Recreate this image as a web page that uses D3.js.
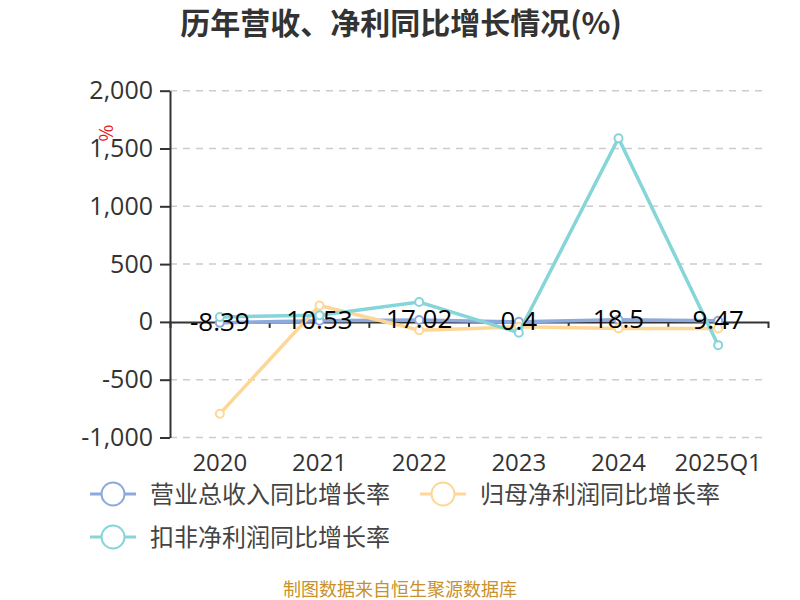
<!DOCTYPE html>
<html>
<head>
<meta charset="utf-8">
<script src="https://d3js.org/d3.v7.min.js"></script>
<style>
body { margin: 0; background: #fff; }
svg { font-family: "Noto Sans CJK SC", "Noto Sans", sans-serif; }
.num { font-family: "Open Sans", "Noto Sans", sans-serif; }
</style>
</head>
<body>
<svg width="800" height="600"></svg>
<script>
// chart data
var years = ["2020", "2021", "2022", "2023", "2024", "2025Q1"];
var revenueGrowth = [-8.39, 10.53, 17.02, 0.4, 18.5, 9.47];
var netProfitGrowth = [-795, 142, -72, -43, -57, -57];
var deductedProfitGrowth = [43, 57, 172, -94, 1589, -201];
var yTicks = [-1000, -500, 0, 500, 1000, 1500, 2000];
var seriesNames = ["营业总收入同比增长率", "归母净利润同比增长率", "扣非净利润同比增长率"];
var seriesColors = ["#8eaadc", "#fed797", "#86d5d8"];

var svg = d3.select("svg");
var left = 170, right = 768;

var x = d3.scaleBand().domain(years).range([left, right]);
var y = d3.scaleLinear().domain([-1000, 2000]).range([437.5, 90.7]);
var fmt = function(d){ return d3.format(",")(d).replace("−", "-"); };

// title
svg.append("text")
  .attr("x", 401).attr("y", 34)
  .attr("text-anchor", "middle")
  .style("font-size", "30px").style("font-weight", "bold")
  .style("fill", "#333")
  .text("历年营收、净利同比增长情况(%)");

// grid
svg.append("g").selectAll("line")
  .data(yTicks.filter(function(d){ return d !== 0; }))
  .enter().append("line")
  .attr("x1", left).attr("x2", right)
  .attr("y1", function(d){ return y(d); })
  .attr("y2", function(d){ return y(d); })
  .style("stroke", "#ccc").style("stroke-width", 1.5)
  .style("stroke-dasharray", "7,6");

// y axis
var yAxis = svg.append("g")
  .attr("transform", "translate(" + left + ",0)")
  .call(d3.axisLeft(y).tickValues(yTicks).tickSize(10).tickSizeOuter(0).tickPadding(7).tickFormat(fmt));
yAxis.select(".domain").style("stroke", "#333").style("stroke-width", 2);
yAxis.selectAll(".tick line").style("stroke", "#333").style("stroke-width", 2);
yAxis.selectAll("text").attr("class", "num").style("font-size", "25px").style("fill", "#333");

// y axis name
svg.append("text")
  .attr("transform", "translate(105,133) rotate(90)")
  .attr("text-anchor", "middle")
  .attr("dy", "0.35em")
  .style("font-size", "18px").style("fill", "#e8141c")
  .text("%");

// x axis at zero
var xAxis = svg.append("g")
  .attr("transform", "translate(0," + y(0) + ")")
  .call(d3.axisBottom(x).tickSize(6).tickSizeOuter(6).tickFormat(""));
xAxis.select(".domain").style("stroke", "#333").style("stroke-width", 2);
xAxis.selectAll(".tick line")
  .attr("transform", "translate(" + (x.bandwidth() / 2) + ",0)")
  .style("stroke", "#333").style("stroke-width", 2);
xAxis.selectAll(".tick").filter(function(d, i){ return i === years.length - 1; })
  .select("line").remove();

// x labels at bottom
svg.append("g").selectAll("text")
  .data(years).enter().append("text")
  .attr("class", "num")
  .attr("x", function(d){ return x(d) + x.bandwidth() / 2; })
  .attr("y", 471)
  .attr("text-anchor", "middle")
  .style("font-size", "24px").style("fill", "#333")
  .text(function(d){ return d; });

var allSeries = [revenueGrowth, netProfitGrowth, deductedProfitGrowth];
var line = d3.line()
  .x(function(d, i){ return x(years[i]) + x.bandwidth() / 2; })
  .y(function(d){ return y(d); });

allSeries.forEach(function(vals, s) {
  svg.append("path")
    .datum(vals)
    .attr("d", line)
    .style("fill", "none")
    .style("stroke", seriesColors[s])
    .style("stroke-width", 3.5);
  svg.append("g").selectAll("circle")
    .data(vals).enter().append("circle")
    .attr("cx", function(d, i){ return x(years[i]) + x.bandwidth() / 2; })
    .attr("cy", function(d){ return y(d); })
    .attr("r", 4)
    .style("fill", "#fff")
    .style("stroke", seriesColors[s])
    .style("stroke-width", 2);
});

// revenue labels
svg.append("g").selectAll("text")
  .data(revenueGrowth).enter().append("text")
  .attr("class", "num")
  .attr("x", function(d, i){ return x(years[i]) + x.bandwidth() / 2; })
  .attr("y", function(d){ return y(d) + 8; })
  .attr("text-anchor", "middle")
  .style("font-size", "26px").style("fill", "#000")
  .text(function(d){ return String(d); });

// legend
var legendPos = [[113, 494], [443, 494], [113, 537]];
seriesNames.forEach(function(name, s) {
  var g = svg.append("g").attr("transform", "translate(" + legendPos[s][0] + "," + legendPos[s][1] + ")");
  g.append("line").attr("x1", -23).attr("x2", 23).attr("y1", 0).attr("y2", 0)
    .style("stroke", seriesColors[s]).style("stroke-width", 3);
  g.append("circle").attr("r", 11.5)
    .style("fill", "#fff").style("stroke", seriesColors[s]).style("stroke-width", 2);
  g.append("text").attr("x", 37).attr("y", 9)
    .style("font-size", "24px").style("fill", "#444")
    .text(name);
});

// source note
svg.append("text")
  .attr("x", 400).attr("y", 596)
  .attr("text-anchor", "middle")
  .style("font-size", "18px").style("fill", "#c8912a")
  .text("制图数据来自恒生聚源数据库");
</script>
</body>
</html>
